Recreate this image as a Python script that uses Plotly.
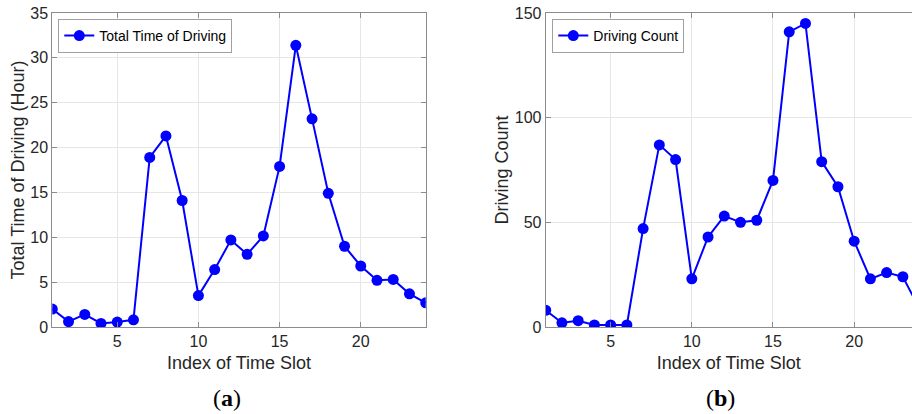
import plotly.graph_objects as go

time_slots = list(range(1, 25))
total_time_hours = [2.0, 0.6, 1.4, 0.4, 0.55, 0.8, 18.9, 21.3, 14.1, 3.5, 6.4, 9.7,
                    8.1, 10.15, 17.9, 31.4, 23.2, 14.9, 9.0, 6.8, 5.2, 5.3, 3.7, 2.7]
driving_count = [8, 2, 3, 1, 1, 1, 47, 87, 80, 23, 43, 53,
                 50, 51, 70, 141, 145, 79, 67, 41, 23, 26, 24, 9]
x_ticks = [5, 10, 15, 20]
y1_ticks = [0, 5, 10, 15, 20, 25, 30, 35]
y2_ticks = [0, 50, 100, 150]

W, H = 912, 414
top_px, bot_px = 13.3, 327.3
font_fam = "Liberation Sans, Arial, Helvetica, sans-serif"
axis_col = "#8c8c8c"
text_col = "#262626"
grid_col = "#e6e6e6"
blue = "#0000ff"

fig = go.Figure()
fig.add_trace(go.Scatter(x=time_slots, y=total_time_hours, mode="lines+markers",
                         name="Total Time of Driving", line=dict(color=blue, width=2),
                         marker=dict(color=blue, size=11), xaxis="x", yaxis="y",
                         legend="legend"))
fig.add_trace(go.Scatter(x=time_slots, y=driving_count, mode="lines+markers",
                         name="Driving Count", line=dict(color=blue, width=2),
                         marker=dict(color=blue, size=11), xaxis="x2", yaxis="y2",
                         legend="legend2", cliponaxis=True))

common_x = dict(showline=True, linecolor=axis_col, linewidth=1, ticks="inside", ticklen=5,
                tickcolor=axis_col, showgrid=True, gridcolor=grid_col, gridwidth=1,
                zeroline=False, tickvals=x_ticks, tickfont=dict(size=16, color=text_col),
                title=dict(text="Index of Time Slot", font=dict(size=18, color=text_col), standoff=7),
                automargin=False)
common_y = dict(showline=True, linecolor=axis_col, linewidth=1, ticks="inside", ticklen=5,
                tickcolor=axis_col, showgrid=True, gridcolor=grid_col, gridwidth=1,
                zeroline=False, tickfont=dict(size=16, color=text_col), automargin=False)

x1_dom = [52.3 / W, 425.7 / W]
x2_dom = [545.7 / W, 1.0]
px_per_unit = (425.7 - 52.3) / 23.0
x2_max = 1 + (W - 545.7) / px_per_unit

fig.update_layout(
    width=W, height=H,
    margin=dict(l=0, r=0, t=top_px, b=H - bot_px, pad=0),
    paper_bgcolor="white", plot_bgcolor="white",
    font=dict(family=font_fam, color=text_col),
    xaxis=dict(domain=x1_dom, range=[1, 24], mirror="allticks", anchor="y", **common_x),
    yaxis=dict(domain=[0, 1], range=[0, 35], tickvals=y1_ticks, mirror="allticks", anchor="x",
               title=dict(text="Total Time of Driving (Hour)", font=dict(size=18, color=text_col), standoff=1),
               **common_y),
    xaxis2=dict(domain=x2_dom, range=[1, x2_max], mirror="allticks", anchor="y2", **common_x),
    yaxis2=dict(domain=[0, 1], range=[0, 150], tickvals=y2_ticks, mirror=False, anchor="x2",
                title=dict(text="Driving Count", font=dict(size=18, color=text_col), standoff=1),
                **common_y),
    legend=dict(x=58.3 / W, y=1 - 6 / (bot_px - top_px), xanchor="left", yanchor="top",
                bgcolor="white", bordercolor="#a0a0a0", borderwidth=1,
                font=dict(size=14, color="black"), itemwidth=30, tracegroupgap=0),
    legend2=dict(x=552.3 / W, y=1 - 6 / (bot_px - top_px), xanchor="left", yanchor="top",
                 bgcolor="white", bordercolor="#a0a0a0", borderwidth=1,
                 font=dict(size=14, color="black"), itemwidth=30, tracegroupgap=0),
    showlegend=True,
    annotations=[
        dict(text="(<b>a</b>)", x=226.7 / W, y=(bot_px - 398) / (bot_px - top_px), xref="paper", yref="paper",
             showarrow=False, font=dict(family="Liberation Serif, DejaVu Serif, serif", size=24, color="black"),
             xanchor="center", yanchor="middle"),
        dict(text="(<b>b</b>)", x=720 / W, y=(bot_px - 398) / (bot_px - top_px), xref="paper", yref="paper",
             showarrow=False, font=dict(family="Liberation Serif, DejaVu Serif, serif", size=24, color="black"),
             xanchor="center", yanchor="middle"),
    ],
)

fig.write_html("out.html", config={"displayModeBar": False},
               post_script="document.body.style.margin='0';document.body.style.overflow='hidden';")
